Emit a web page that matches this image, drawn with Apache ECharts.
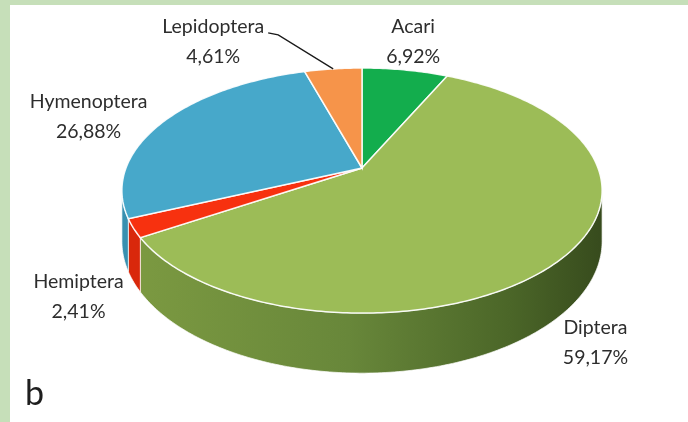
<!DOCTYPE html>
<html>
<head>
<meta charset="utf-8">
<script src="https://cdn.jsdelivr.net/npm/echarts@6/dist/echarts.min.js"></script>
<style>
html,body{margin:0;padding:0;background:#c6dfb9;overflow:hidden;}
#main{position:absolute;left:10px;top:5px;width:678px;height:417px;background:#fff;}
</style>
</head>
<body>
<div id="main"></div>
<script>
// data
const orders = ['Acari', 'Diptera', 'Hemiptera', 'Hymenoptera', 'Lepidoptera'];
const shares = [6.92, 59.17, 2.41, 26.88, 4.61];
const panelTag = 'b';

// colours (top face / side wall)
const topColors = ['#13ad4d', '#9cbc57', '#f7310f', '#47a8ca', '#f6944a'];
const sideColors = ['#0c8a3b', null, '#d9280b', '#3890b0', '#d67a35'];

// 3d look: centre, radii, perspective and thickness
const CX = 352, CY = 163, RX = 236, RY = 118.4, K = 0.184, H = 49;
// label offsets from the rim point (Excel moved them by hand)
const labelShift = [[8, -28], [32, 30], [-55, 15], [-75, -5], [-120, -27]];
const leaderIndex = 4;

const total = shares.reduce((a, b) => a + b, 0);
const starts = [];
let acc = 0;
shares.forEach(v => { starts.push(acc / total * Math.PI * 2); acc += v; });

function proj(t, drop) {
    const u = Math.sin(t), v = Math.cos(t);
    const s = 1 / (1 + K * v);
    return [CX + RX * u * s, CY - RY * v * s + (drop ? H * s : 0)];
}
function arc(a0, a1, drop) {
    const pts = [];
    const n = Math.max(2, Math.ceil((a1 - a0) / 0.015));
    for (let j = 0; j <= n; j++) pts.push(proj(a0 + (a1 - a0) * j / n, drop));
    return pts;
}

const SIL0 = Math.acos(-K), SIL1 = Math.PI * 2 - Math.acos(-K);

function renderItem(params, api) {
    const i = params.dataIndex;
    const a0 = starts[i];
    const a1 = a0 + api.value(0) / total * Math.PI * 2;
    const children = [];

    // side wall, only the front part shows
    const lo = Math.max(a0, SIL0), hi = Math.min(a1, SIL1);
    if (lo < hi) {
        let fill = sideColors[i];
        if (i === 1) {
            fill = new echarts.graphic.LinearGradient(0, 0, 1, 0, [
                {offset: 0, color: '#7b9941'},
                {offset: 0.45, color: '#68873a'},
                {offset: 0.8, color: '#4b6628'},
                {offset: 1, color: '#374b1d'}
            ]);
        }
        const pts = arc(lo, hi, false).concat(arc(lo, hi, true).reverse());
        children.push({
            type: 'polygon',
            shape: {points: pts},
            style: {fill: fill, stroke: 'rgba(255,255,255,0.7)', lineWidth: 1}
        });
    }

    // top face
    children.push({
        type: 'polygon',
        shape: {points: [[CX, CY]].concat(arc(a0, a1, false))},
        style: {fill: topColors[i], stroke: 'rgba(255,255,255,0.9)', lineWidth: 1.5},
        z2: 10
    });

    // label
    const mid = (a0 + a1) / 2;
    const rim = proj(mid, Math.cos(mid) < 0);
    const lx = rim[0] + labelShift[i][0];
    const ly = rim[1] + labelShift[i][1];
    const pct = api.value(0).toFixed(2).replace('.', ',') + '%';
    children.push({
        type: 'text',
        x: lx, y: ly,
        style: {
            text: orders[i] + '\n' + pct,
            fill: '#2d2d2d',
            font: '19.5px Lato',
            lineHeight: 30,
            align: 'center',
            verticalAlign: 'middle'
        },
        z2: 20
    });
    if (i === leaderIndex) {
        children.push({
            type: 'polyline',
            shape: {points: [[lx + 55, ly - 9], [lx + 65, ly - 7], proj(mid, false)]},
            style: {stroke: '#1a1a1a', lineWidth: 1.3, fill: null},
            z2: 20
        });
    }
    return {type: 'group', children: children};
}

const chart = echarts.init(document.getElementById('main'));
chart.setOption({
    animation: false,
    backgroundColor: '#fff',
    graphic: [{
        type: 'text',
        left: 15, top: 372,
        style: {text: panelTag, font: '34px Lato', fill: '#1e1e1e'}
    }],
    series: [{
        type: 'custom',
        coordinateSystem: 'none',
        renderItem: renderItem,
        data: shares.map((v, i) => ({name: orders[i], value: v}))
    }]
});
</script>
</body>
</html>
